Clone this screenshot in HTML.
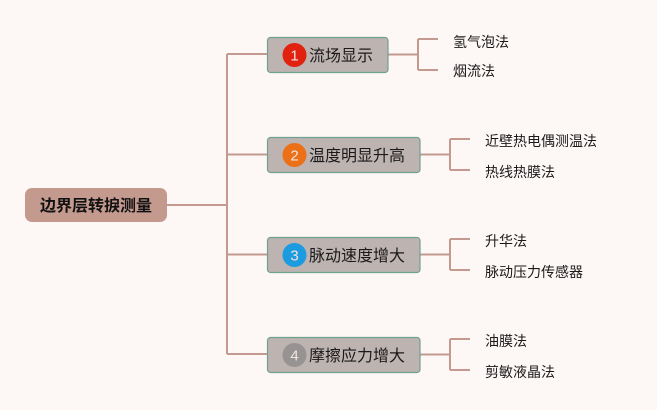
<!DOCTYPE html>
<html><head><meta charset="utf-8"><style>
html,body{margin:0;padding:0;background:#fdf7f6;}
svg{display:block;}
text{font-family:"Liberation Sans","Noto Sans CJK SC",sans-serif;}
</style></head><body>
<svg width="657" height="410" viewBox="0 0 657 410" xmlns="http://www.w3.org/2000/svg">
<rect width="657" height="410" fill="#fdf7f6"/>
<g stroke="#c49a90" stroke-width="2" fill="none">
<path d="M167 205 H227 M227 54 V354 M227 54 H267 M227 154.5 H267 M227 254.5 H267 M227 354 H267"/>
<path d="M388 54.5 H418 M418 39 V70 M418 39 H438 M418 70 H438"/>
<path d="M420 154.5 H450 M450 139 V170 M450 139 H470 M450 170 H470"/>
<path d="M420 254.5 H450 M450 239 V270 M450 239 H470 M450 270 H470"/>
<path d="M420 354.5 H450 M450 339 V370 M450 339 H470 M450 370 H470"/>
</g>
<rect x="25" y="188" width="142" height="34" rx="7" fill="#c49a8f"/>
<text x="96" y="211" font-size="16" font-weight="bold" text-anchor="middle" fill="#111">边界层转捩测量</text>
<g stroke="#6fa28e" stroke-width="1.2" fill="#bdb3b1">
<rect x="267.5" y="37.5" width="120.5" height="35" rx="3"/>
<rect x="267.5" y="137.5" width="152.5" height="35" rx="3"/>
<rect x="267.5" y="237.5" width="152.5" height="35" rx="3"/>
<rect x="267.5" y="337.5" width="152.5" height="35" rx="3"/>
</g>
<circle cx="294.5" cy="55" r="12" fill="#e0220f"/>
<circle cx="294.5" cy="155" r="12" fill="#ec7018"/>
<circle cx="294.5" cy="255" r="12" fill="#1d9be0"/>
<circle cx="294.5" cy="355" r="12" fill="#979393"/>
<g font-size="15" fill="#f3e4e0" text-anchor="middle">
<text x="294.5" y="60.5">1</text>
<text x="294.5" y="160.5">2</text>
<text x="294.5" y="260.5">3</text>
<text x="294.5" y="360.5">4</text>
</g>
<g font-size="16" fill="#1a1a1a">
<text x="309" y="61">流场显示</text>
<text x="309" y="161">温度明显升高</text>
<text x="309" y="261">脉动速度增大</text>
<text x="309" y="361">摩擦应力增大</text>
</g>
<g font-size="14" fill="#1a1a1a">
<text x="453" y="47">氢气泡法</text>
<text x="453" y="76">烟流法</text>
<text x="485" y="146">近壁热电偶测温法</text>
<text x="485" y="177">热线热膜法</text>
<text x="485" y="246">升华法</text>
<text x="485" y="277">脉动压力传感器</text>
<text x="485" y="346">油膜法</text>
<text x="485" y="377">剪敏液晶法</text>
</g>
</svg>
</body></html>
